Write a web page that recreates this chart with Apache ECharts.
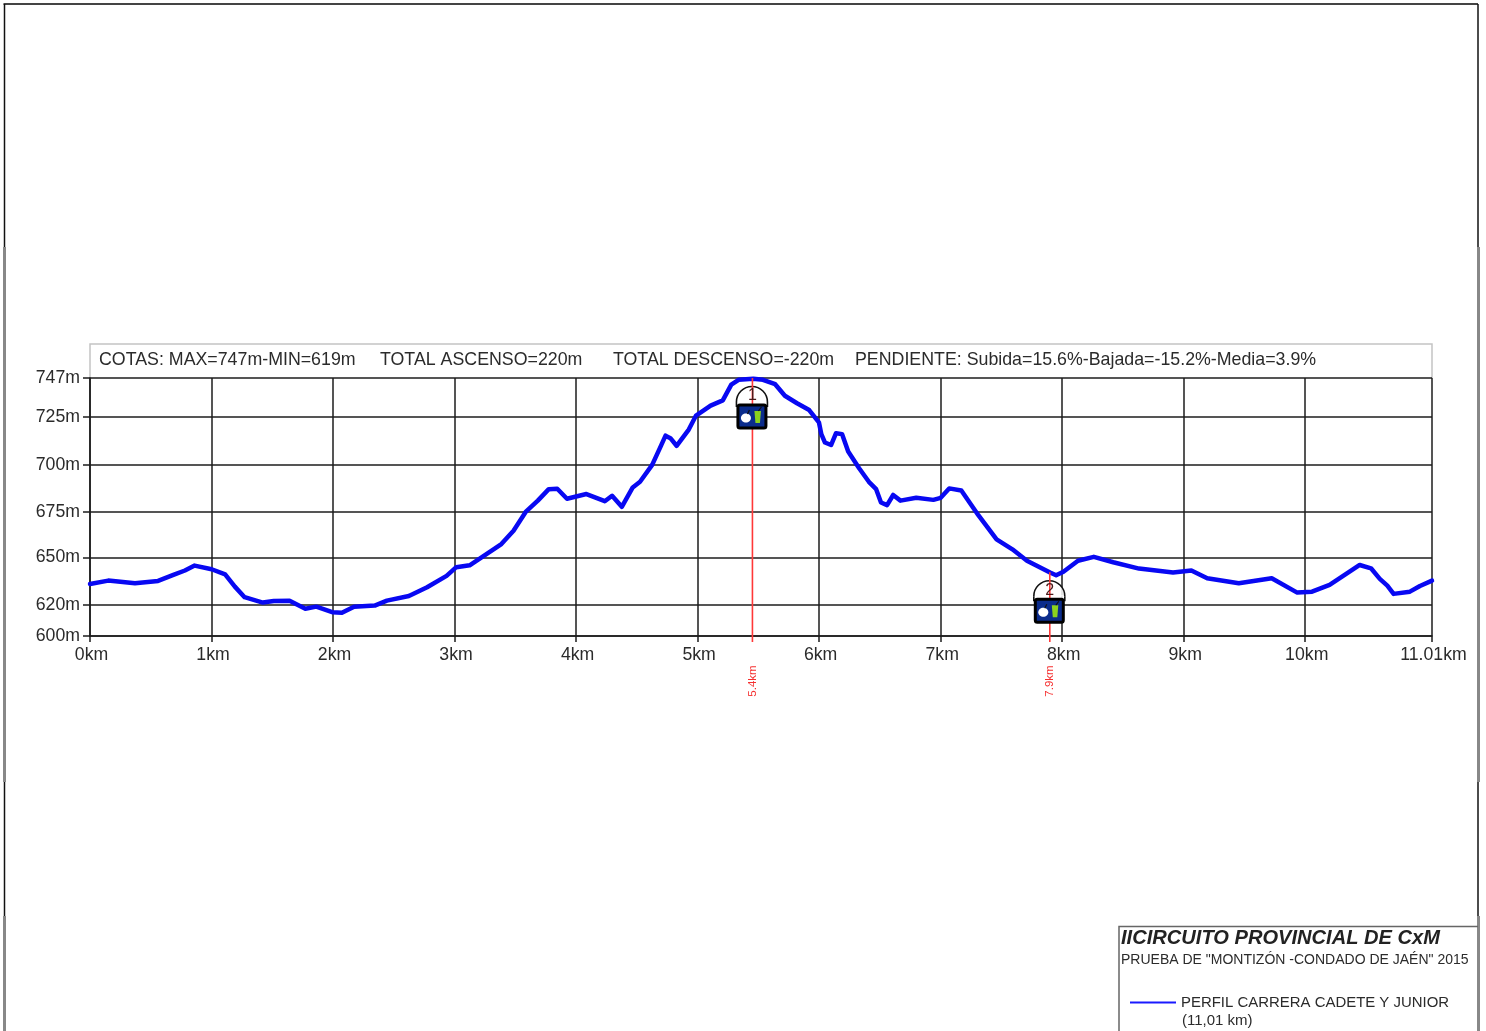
<!DOCTYPE html>
<html>
<head>
<meta charset="utf-8">
<script src="https://cdn.jsdelivr.net/npm/echarts@6/dist/echarts.min.js"></script>
<style>
html,body{margin:0;padding:0;background:#fff;width:1486px;height:1031px;overflow:hidden}
#c{width:1486px;height:1031px;filter:blur(0.35px)}
</style>
</head>
<body>
<div id="c"></div>
<script>
// Distance along the course (km)
const distanceKm = [0,0.15,0.37,0.56,0.686,0.781,0.861,1.001,1.112,1.192,1.272,1.422,1.512,1.642,1.772,1.862,1.993,2.073,2.173,2.343,2.443,2.624,2.774,2.934,3.014,3.124,3.265,3.385,3.485,3.585,3.685,3.775,3.845,3.925,4.085,4.236,4.296,4.376,4.466,4.526,4.626,4.696,4.736,4.776,4.827,4.927,4.987,5.107,5.207,5.277,5.337,5.458,5.538,5.638,5.718,5.818,5.918,5.998,6.018,6.048,6.098,6.139,6.189,6.239,6.329,6.409,6.469,6.509,6.559,6.609,6.669,6.799,6.94,7.0,7.07,7.17,7.31,7.46,7.59,7.71,7.9,7.95,8.01,8.13,8.26,8.42,8.632,8.912,9.063,9.193,9.453,9.724,9.934,10.054,10.194,10.434,10.524,10.594,10.654,10.704,10.834,10.914,11.01];
// Elevation as read against the printed tick labels (m)
const elevationM = [633.3,635.4,633.7,635.2,639,641.8,644.9,642.6,639.4,631.6,624.9,621.5,622.5,622.7,617.6,618.9,615.3,615,618.9,619.6,622.7,625.7,631.2,638.4,643.9,645.1,652,657.4,664.7,675,681,687.1,687.3,682,684.5,680.7,683.6,677.7,688,691,700,709.7,715.3,714,710,718.5,725.9,731.5,734.4,743.3,746,746.6,746,743.5,737,732.8,729,722.3,716.1,711.7,710.4,716.6,716.1,707,698.2,691,687.1,680,678.6,684,681,682.5,681.4,682.5,687.5,686.4,673.2,660,654.5,648,640.5,638.8,641,648,650.4,647,643,640.5,641.8,636.9,633.7,636.9,627.8,628.4,632.7,645.3,643.2,636.5,632.2,627,628.4,632,635.4];
// Printed elevation ticks (the printed axis is not linear) and the matching linear axis values
const elevationTicks = [600,620,650,675,700,725,747];
const linearElevationTicks = [600,617.7,644.7,670.7,697.5,724.7,747];
// Printed distance ticks and the matching linear axis values (the last span is drawn slightly long)
const distanceTicks = [0,1,2,3,4,5,6,7,8,9,10,11.01];
const linearDistanceTicks = [0,1,2,3,4,5,6,7,8,9,10,11.043];
// Aid stations
const stationNames = ['1','2'];
const stationKm = [5.451,7.898];
const stationElevation = [747,640.7];
const stationLabels = ['5.4km','7.9km'];
const headerTexts = ['COTAS: MAX=747m-MIN=619m','TOTAL ASCENSO=220m','TOTAL DESCENSO=-220m','PENDIENTE: Subida=15.6%-Bajada=-15.2%-Media=3.9%'];
const headerStarts = [99,380,613,855];
const titleMain = 'IICIRCUITO PROVINCIAL DE CxM';
const titleSub = 'PRUEBA DE "MONTIZÓN -CONDADO DE JAÉN" 2015';
const seriesName = 'PERFIL CARRERA CADETE Y JUNIOR';
const seriesNote = '(11,01 km)';

function warp(v,from,to){
  for(let i=0;i<from.length-1;i++){
    if(v<=from[i+1]){
      const t=(v-from[i])/(from[i+1]-from[i]);
      return to[i]+t*(to[i+1]-to[i]);
    }
  }
  return to[to.length-1];
}
const elevAxis=e=>warp(e,elevationTicks,linearElevationTicks);
const distAxis=d=>warp(d,distanceTicks,linearDistanceTicks);
const FONT='"Liberation Sans",Arial,sans-serif';
const INK='#2b2b2b', GRID='#1c1c1c';
const TICK_FONT=17.7;
const chart=echarts.init(document.getElementById('c'),null,{renderer:'canvas'});

function frame(x,y1,y2,w,color){
  return {type:'line',silent:true,shape:{x1:x,y1:y1,x2:x,y2:y2},style:{stroke:color,lineWidth:w}};
}
function txt(x,y,text,size,extra){
  return {type:'text',silent:true,x:x,y:y,style:Object.assign({text:text,font:size+'px '+FONT,fill:INK,textBaseline:'middle',textVerticalAlign:'middle',verticalAlign:'middle'},extra||{})};
}
const graphics=[
  {type:'line',silent:true,shape:{x1:3.5,y1:4,x2:1478,y2:4},style:{stroke:'#444',lineWidth:2}},
  frame(4.5,4,247,1.5,'#111'),frame(4.5,247,782,3,'#888'),frame(4.5,782,916,1.5,'#111'),frame(4.5,916,1031,3,'#888'),
  frame(1478,4,247,1.5,'#111'),frame(1478.5,247,782,3,'#888'),frame(1478,782,916,1.5,'#111'),frame(1478.5,916,1031,3,'#888'),
  {type:'polyline',silent:true,shape:{points:[[90,378],[90,344],[1432,344],[1432,378]]},style:{stroke:'#c4c4c4',lineWidth:1.5,fill:null}},
  {type:'polyline',silent:true,shape:{points:[[1119,1031],[1119,926.5],[1478,926.5]]},style:{stroke:'#666',lineWidth:1.5,fill:null}},
  txt(1121,938,titleMain,20.1,{font:'italic bold 20.1px '+FONT,fill:'#222'}),
  txt(1121,960,titleSub,14),
  txt(1182,1021,seriesNote,15)
];
headerTexts.forEach((t,i)=>graphics.push(txt(headerStarts[i],360.5,t,17.8)));

function renderStation(params,api){
  const km=api.value(0), top=api.coord([km,api.value(1)]);
  const base=api.coord([km,600]);
  const x=top[0], y=top[1];
  const boxT=y+27, boxH=23, boxW=28, boxL=x-14.5;
  return {type:'group',children:[
    {type:'rect',shape:{x:x-15.5,y:boxT-4,width:31,height:6},style:{fill:'#fff',opacity:0.85}},
    {type:'arc',shape:{cx:x-0.5,cy:boxT-3,r:15.5,startAngle:Math.PI,endAngle:0,clockwise:true},style:{stroke:'#111',lineWidth:1.6,fill:'rgba(255,255,255,0.85)'}},
    {type:'line',shape:{x1:x-16,y1:boxT-3,x2:x-16,y2:boxT+2},style:{stroke:'#111',lineWidth:1.6}},
    {type:'line',shape:{x1:x+15,y1:boxT-3,x2:x+15,y2:boxT+2},style:{stroke:'#111',lineWidth:1.6}},
    {type:'line',shape:{x1:x,y1:y,x2:x,y2:base[1]+6},style:{stroke:'#ff3838',lineWidth:1.6}},
    {type:'text',x:x,y:base[1]+45,rotation:Math.PI/2,style:{text:stationLabels[params.dataIndex],font:'11.5px '+FONT,fill:'#f53030',align:'center',verticalAlign:'middle',textAlign:'center',textBaseline:'middle'}},
    {type:'text',x:x,y:boxT-9,style:{text:stationNames[params.dataIndex],font:'16px '+FONT,fill:'#4a1a1a',align:'center',verticalAlign:'middle',textAlign:'center',textBaseline:'middle'}},
    {type:'rect',shape:{x:boxL,y:boxT,width:boxW,height:boxH,r:2},style:{fill:'#0b2c8c',stroke:'#000',lineWidth:3}},
    {type:'ellipse',shape:{cx:x-6.5,cy:boxT+13,rx:5,ry:4.5},style:{fill:'#fff'}},
    {type:'line',shape:{x1:x-5,y1:boxT+9,x2:x-3,y2:boxT+5},style:{stroke:'#111',lineWidth:1.2}},
    {type:'polygon',shape:{points:[[x+2,boxT+6],[x+8.5,boxT+6],[x+7.5,boxT+18],[x+3,boxT+18]]},style:{fill:'#8cd21e'}},
    {type:'line',shape:{x1:x+6,y1:boxT+6,x2:x+9,y2:boxT+2},style:{stroke:'#111',lineWidth:1.2}}
  ]};
}

chart.setOption({
  animation:false,
  backgroundColor:'#fff',
  grid:{left:90,right:54,top:378,height:258,containLabel:false},
  legend:{
    left:1125,top:990,itemWidth:46,itemHeight:14,icon:'path://M0 6H46V8H0Z',data:[seriesName],selectedMode:false,
    itemStyle:{color:'#1a1aff'},
    textStyle:{fontFamily:FONT,fontSize:14.95,color:INK}
  },
  xAxis:{
    type:'value',min:0,max:11.043,
    axisLine:{show:true,lineStyle:{color:GRID,width:1.5}},
    axisTick:{show:true,length:6,customValues:linearDistanceTicks,lineStyle:{color:GRID,width:1.5}},
    axisLabel:{customValues:linearDistanceTicks,margin:10,fontFamily:FONT,fontSize:TICK_FONT,color:INK,padding:[0,0,0,3],
      formatter:v=>distanceTicks[linearDistanceTicks.indexOf(v)]+'km',showMinLabel:true,showMaxLabel:true},
    splitLine:{show:true,lineStyle:{color:GRID,width:1.5}}
  },
  yAxis:{
    type:'value',min:600,max:747,
    axisLine:{show:true,lineStyle:{color:GRID,width:1.5}},
    axisTick:{show:true,length:7,customValues:linearElevationTicks,lineStyle:{color:GRID,width:1.5}},
    axisLabel:{customValues:linearElevationTicks,margin:10,fontFamily:FONT,fontSize:TICK_FONT,color:INK,padding:[0,0,8,0],
      formatter:v=>elevationTicks[linearElevationTicks.indexOf(v)]+'m',showMinLabel:true,showMaxLabel:true},
    splitLine:{show:true,lineStyle:{color:GRID,width:1.5}}
  },
  graphic:{elements:graphics},
  series:[
    {name:seriesName,type:'line',symbol:'none',smooth:false,z:3,
     lineStyle:{color:'#0808f2',width:4.5,join:'round',cap:'round'},itemStyle:{color:'#0808f2'},
     data:distanceKm.map((d,i)=>[distAxis(d),elevAxis(elevationM[i])])},
    {type:'custom',z:5,silent:true,clip:false,renderItem:renderStation,
     encode:{x:0,y:1},
     data:stationKm.map((d,i)=>[d,elevAxis(stationElevation[i])])}
  ]
});
</script>
</body>
</html>
